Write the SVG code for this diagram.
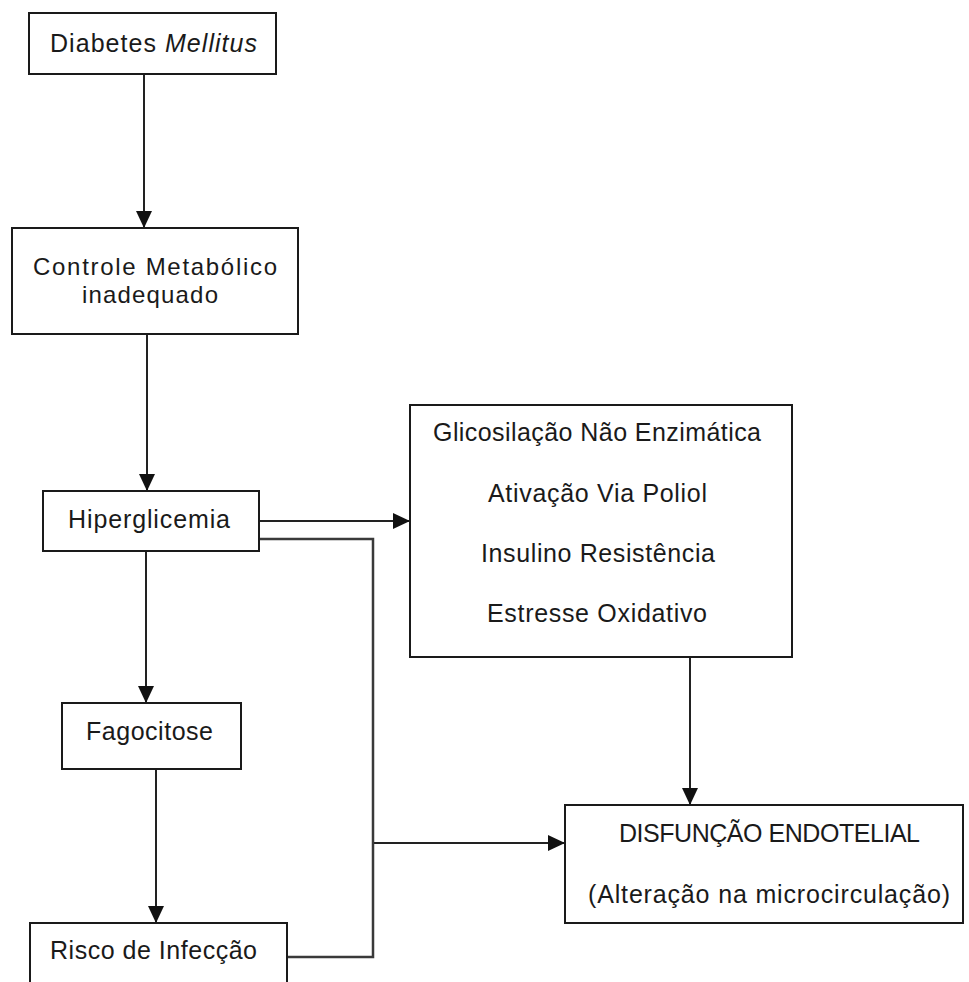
<svg xmlns="http://www.w3.org/2000/svg" width="969" height="982" viewBox="0 0 969 982">
  <style>
    .box { fill: #ffffff; stroke: #1a1a1a; stroke-width: 2; }
    .lbl { font-family: "Liberation Sans", Arial, sans-serif; font-size: 25px; fill: #1a1a1a; }
    .lbl.tight { font-size: 24px; }
    .wire { fill: none; stroke: #222222; stroke-width: 2; }
    .wire.arrow { marker-end: url(#head); }
  </style>
  <defs>
    <marker id="head" markerUnits="userSpaceOnUse" markerWidth="18" markerHeight="16" refX="17" refY="8" orient="auto">
      <path d="M0,0 L17,8 L0,16 Z" fill="#111111"/>
    </marker>
  </defs>

  <rect width="969" height="982" fill="#ffffff"/>

  <!-- connectors -->
  <g id="connectors">
    <line class="wire arrow" x1="144" y1="74" x2="144" y2="228"/>
    <line class="wire arrow" x1="147" y1="334" x2="147" y2="491"/>
    <line class="wire arrow" x1="146" y1="551" x2="146" y2="703"/>
    <line class="wire arrow" x1="156" y1="769" x2="156" y2="923"/>
    <line class="wire arrow" x1="259" y1="521" x2="410" y2="521"/>
    <line class="wire arrow" x1="690" y1="657" x2="690" y2="805"/>
    <line class="wire arrow" x1="373" y1="843" x2="565" y2="843"/>
    <polyline class="wire" points="259,539 373,539 373,957 287,957" style="stroke:#3a3a3a;stroke-width:2.5"/>
  </g>

  <!-- nodes -->
  <g id="diabetes">
    <rect class="box" x="29" y="13" width="247" height="61"/>
    <text class="lbl" x="50" y="52" textLength="207" lengthAdjust="spacing">Diabetes <tspan font-style="italic">Mellitus</tspan></text>
  </g>

  <g id="controle">
    <rect class="box" x="12" y="228" width="286" height="106"/>
    <text class="lbl tight" x="33" y="275" textLength="244" lengthAdjust="spacing">Controle Metabólico</text>
    <text class="lbl tight" x="82" y="303" textLength="136" lengthAdjust="spacing">inadequado</text>
  </g>

  <g id="hiperglicemia">
    <rect class="box" x="43" y="491" width="216" height="60"/>
    <text class="lbl" x="68" y="528" textLength="162" lengthAdjust="spacing">Hiperglicemia</text>
  </g>

  <g id="mecanismos">
    <rect class="box" x="410" y="405" width="382" height="252"/>
    <text class="lbl" x="433" y="441" textLength="328" lengthAdjust="spacing">Glicosilação Não Enzimática</text>
    <text class="lbl" x="488" y="502" textLength="219" lengthAdjust="spacing">Ativação Via Poliol</text>
    <text class="lbl" x="481" y="562" textLength="234" lengthAdjust="spacing">Insulino Resistência</text>
    <text class="lbl" x="487" y="622" textLength="220" lengthAdjust="spacing">Estresse Oxidativo</text>
  </g>

  <g id="fagocitose">
    <rect class="box" x="62" y="703" width="179" height="66"/>
    <text class="lbl" x="86" y="740" textLength="127" lengthAdjust="spacing">Fagocitose</text>
  </g>

  <g id="disfuncao">
    <rect class="box" x="565" y="805" width="398" height="118"/>
    <text class="lbl" x="619" y="842" textLength="301" lengthAdjust="spacing">DISFUNÇÃO ENDOTELIAL</text>
    <text class="lbl" x="588" y="903" textLength="362" lengthAdjust="spacing">(Alteração na microcirculação)</text>
  </g>

  <g id="risco">
    <rect class="box" x="30" y="923" width="257" height="70"/>
    <text class="lbl" x="50" y="959" textLength="207" lengthAdjust="spacing">Risco de Infecção</text>
  </g>
</svg>
